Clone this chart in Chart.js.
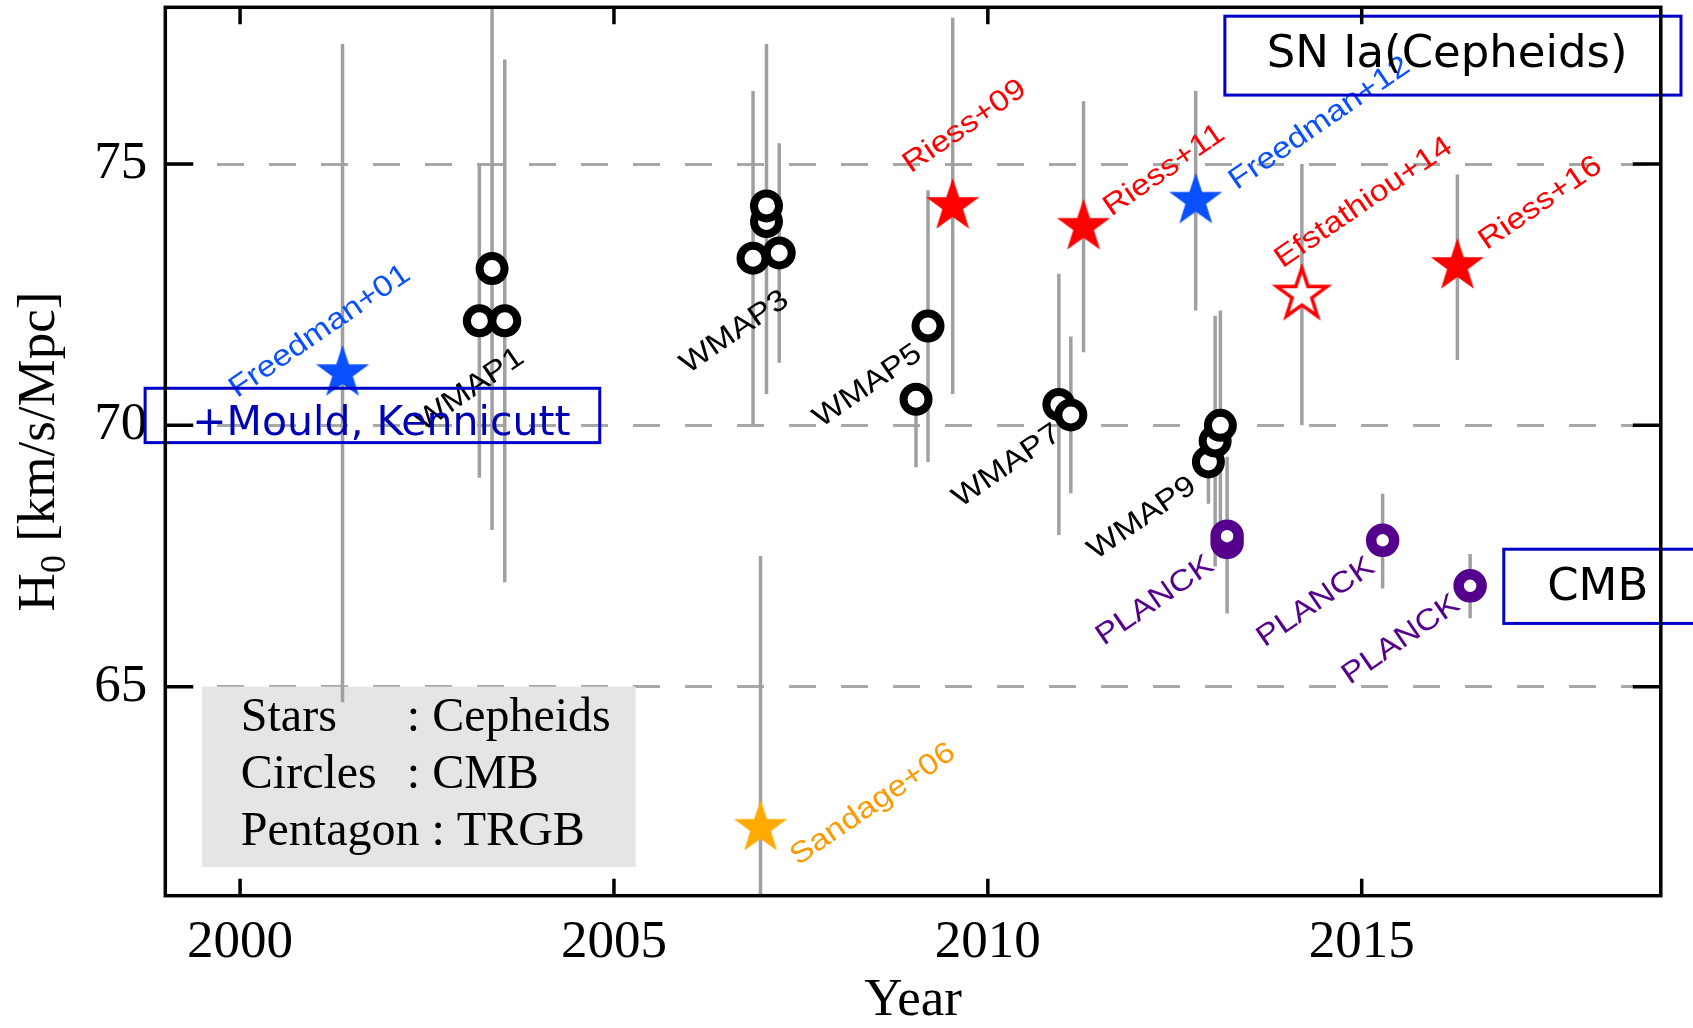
<!DOCTYPE html>
<html>
<head>
<meta charset="utf-8">
<title>H0 measurements by year</title>
<script src="https://cdn.jsdelivr.net/npm/chart.js@4.4.0/dist/chart.umd.min.js"></script>
<style>
  html, body { margin: 0; padding: 0; background: #fff; }
  #wrap { width: 1693px; height: 1028px; }
</style>
</head>
<body>
<div id="wrap"><canvas id="h0Chart" width="1693" height="1028"></canvas></div>
<script>
// Axis ranges and labelled ticks
const yearMin = 1999, yearMax = 2019;
const h0Min = 61, h0Max = 78;
const xTickLabels = [2000, 2005, 2010, 2015];
const yTickLabels = [65, 70, 75];

// Cepheid based measurements (stars)
const starNames = ['Freedman+01', 'Riess+09', 'Riess+11', 'Freedman+12', 'Efstathiou+14', 'Riess+16', 'Sandage+06'];
const starYears = [2001.37, 2009.53, 2011.28, 2012.78, 2014.20, 2016.28, 2006.96];
const starH0    = [71.0, 74.2, 73.8, 74.3, 72.5, 73.05, 62.3];
const starLow   = [64.7, 70.6, 71.4, 72.2, 70.0, 71.25, 57.0];
const starHigh  = [77.3, 77.8, 76.2, 76.4, 75.0, 74.8, 67.5];

// WMAP results (black circles)
const wmapYears = [2003.37, 2003.20, 2003.54, 2006.86, 2007.04, 2007.04, 2007.21, 2009.04, 2009.20, 2010.95, 2011.11, 2012.95, 2013.04, 2013.11];
const wmapH0    = [73.0, 72.0, 72.0, 73.2, 73.9, 74.2, 73.3, 70.5, 71.9, 70.4, 70.2, 69.3, 69.7, 70.0];
const wmapLow   = [68.0, 69.0, 67.0, 70.0, 70.6, 71.1, 71.2, 69.2, 69.3, 67.9, 68.7, 68.5, 67.3, 67.8];
const wmapHigh  = [78.0, 75.0, 77.0, 76.4, 77.3, 77.3, 75.4, 70.5, 74.5, 72.9, 71.7, 70.1, 72.1, 72.2];

// Planck results (purple circles)
const planckYears = [2013.20, 2013.20, 2015.28, 2016.45];
const planckH0    = [67.76, 67.88, 67.8, 66.93];
const planckLow   = [66.4, 66.4, 66.88, 66.31];
const planckHigh  = [69.4, 69.4, 68.69, 67.54];

// Rotated point labels (text start, in data units)
const labelTexts = ['Freedman+01', 'WMAP1', 'WMAP3', 'WMAP5', 'WMAP7', 'WMAP9', 'PLANCK', 'PLANCK', 'PLANCK',
                    'Riess+09', 'Riess+11', 'Freedman+12', 'Efstathiou+14', 'Riess+16', 'Sandage+06'];
const labelYears = [1999.96, 2002.45, 2005.99, 2007.77, 2009.63, 2011.44, 2011.55, 2013.70, 2014.84,
                    2008.97, 2011.65, 2013.33, 2013.94, 2016.67, 2007.46];
const labelH0    = [70.52, 69.88, 70.98, 69.95, 68.42, 67.42, 65.78, 65.75, 65.03,
                    74.82, 73.99, 74.50, 73.00, 73.35, 61.57];

// colours
const RED = '#ff0000', BLUE = '#0a50ff', ORANGE = '#ffaa00', PURPLE = '#55008c', BAR = '#a0a0a0';
const starKind = {
  'Freedman+01': 'blue', 'Freedman+12': 'blue', 'Riess+09': 'red', 'Riess+11': 'red',
  'Riess+16': 'red', 'Efstathiou+14': 'open', 'Sandage+06': 'orange'
};
function labelColor(t) {
  if (t.startsWith('WMAP')) return '#000';
  if (t === 'PLANCK') return PURPLE;
  if (t.startsWith('Freedman')) return BLUE;
  if (t.startsWith('Sandage')) return '#ff9900';
  return RED;
}

// star marker drawn once into a small canvas, used as pointStyle
function makeStar(fill, stroke, R) {
  const size = Math.ceil(2 * R + 8);
  const c = document.createElement('canvas');
  c.width = size; c.height = size;
  const g = c.getContext('2d');
  const cx = size / 2, cy = size / 2, r = R * 0.39;
  g.beginPath();
  for (let i = 0; i < 10; i++) {
    const rad = i % 2 === 0 ? R : r;
    const a = -Math.PI / 2 + i * Math.PI / 5;
    g.lineTo(cx + rad * Math.cos(a), cy + rad * Math.sin(a));
  }
  g.closePath();
  g.fillStyle = fill;
  g.fill();
  if (stroke) {
    g.lineWidth = 3.5;
    g.lineJoin = 'miter';
    g.strokeStyle = stroke;
    g.stroke();
  }
  return c;
}
const starImages = {
  red: makeStar(RED, null, 28),
  blue: makeStar(BLUE, null, 28),
  orange: makeStar(ORANGE, null, 28),
  open: makeStar('#fff', RED, 26.5)
};

// error bars: one broken line through (x,low)-(x,high) pairs
function barPoints(xs, lo, hi) {
  const out = [];
  xs.forEach((x, i) => {
    out.push({x: x, y: lo[i]}, {x: x, y: hi[i]}, {x: x, y: null});
  });
  return out;
}
const errorBarData = [].concat(
  barPoints(starYears, starLow, starHigh),
  barPoints(wmapYears, wmapLow, wmapHigh),
  barPoints(planckYears, planckLow, planckHigh)
);

const toXY = (xs, ys) => xs.map((x, i) => ({x: x, y: ys[i]}));

// boxes and legend drawn on top of the plot
const noteBoxes = [
  {text: '+Mould, Kennicutt', x0: 1998.73, x1: 2004.81, y0: 70.71, y1: 69.67, tx: 1999.36, ty: 69.82, color: '#0000b4', size: 41},
  {text: 'SN Ia(Cepheids)', x0: 2013.17, x1: 2019.27, y0: 77.83, y1: 76.32, tx: 2013.73, ty: 76.86, color: '#000', size: 45},
  {text: 'CMB', x0: 2016.90, x1: 2019.8, y0: 67.63, y1: 66.21, tx: 2017.48, ty: 66.66, color: '#000', size: 45}
];
const legendLines = [
  {left: 'Stars', right: ': Cepheids', y: 64.15},
  {left: 'Circles', right: ': CMB', y: 63.07},
  {left: 'Pentagon : TRGB', right: '', y: 61.97}
];

const decor = {
  id: 'decor',
  beforeDatasetsDraw(chart) {
    const {ctx, scales: {x, y}} = chart;
    // grey legend panel
    ctx.save();
    ctx.fillStyle = '#e5e5e5';
    const x0 = x.getPixelForValue(1999.49), x1 = x.getPixelForValue(2005.29);
    const y0 = y.getPixelForValue(65.0), y1 = y.getPixelForValue(61.55);
    ctx.fillRect(x0, y0, x1 - x0, y1 - y0);
    ctx.restore();
  },
  afterDatasetsDraw(chart) {
    const {ctx, chartArea: a, scales: {x, y}} = chart;
    ctx.save();

    // rotated labels (slightly wide sans, like the original plot font)
    ctx.font = '29.5px "Liberation Sans", Arial, sans-serif';
    ctx.textAlign = 'left';
    ctx.textBaseline = 'alphabetic';
    labelTexts.forEach((t, i) => {
      ctx.save();
      ctx.translate(x.getPixelForValue(labelYears[i]), y.getPixelForValue(labelH0[i]));
      ctx.rotate(-34.5 * Math.PI / 180);
      ctx.scale(1.15, 1);
      ctx.fillStyle = labelColor(t);
      ctx.fillText(t, 0, 0);
      ctx.restore();
    });

    // legend text
    ctx.fillStyle = '#000';
    ctx.font = '48px "Liberation Serif", "Times New Roman", serif';
    legendLines.forEach(l => {
      ctx.fillText(l.left, x.getPixelForValue(2000.01), y.getPixelForValue(l.y));
      if (l.right) ctx.fillText(l.right, x.getPixelForValue(2002.23), y.getPixelForValue(l.y));
    });

    // outlined note boxes
    noteBoxes.forEach(b => {
      const bx0 = x.getPixelForValue(b.x0), bx1 = x.getPixelForValue(b.x1);
      const by0 = y.getPixelForValue(b.y0), by1 = y.getPixelForValue(b.y1);
      ctx.strokeStyle = '#0000c8';
      ctx.lineWidth = 3;
      ctx.strokeRect(bx0, by0, bx1 - bx0, by1 - by0);
      ctx.fillStyle = b.color;
      ctx.font = b.size + 'px "DejaVu Sans", sans-serif';
      ctx.fillText(b.text, x.getPixelForValue(b.tx), y.getPixelForValue(b.ty));
    });

    // frame with inward ticks on all four sides
    ctx.strokeStyle = '#000';
    ctx.lineWidth = 3.5;
    ctx.strokeRect(a.left, a.top, a.right - a.left, a.bottom - a.top);
    ctx.beginPath();
    x.ticks.forEach(t => {
      const px = x.getPixelForValue(t.value);
      const len = t.value % 5 === 0 ? 17 : 8.5;
      ctx.moveTo(px, a.bottom); ctx.lineTo(px, a.bottom - len);
      ctx.moveTo(px, a.top); ctx.lineTo(px, a.top + len);
    });
    y.ticks.forEach(t => {
      const py = y.getPixelForValue(t.value);
      const len = t.value % 5 === 0 ? 28 : 15;
      ctx.moveTo(a.left, py); ctx.lineTo(a.left + len, py);
      ctx.moveTo(a.right, py); ctx.lineTo(a.right - len, py);
    });
    ctx.stroke();

    // y axis title with subscript
    ctx.translate(54, (a.top + a.bottom) / 2);
    ctx.rotate(-Math.PI / 2);
    ctx.fillStyle = '#000';
    const fMain = '53px "Liberation Serif", serif', fSub = '36px "Liberation Serif", serif';
    ctx.font = fMain;
    const wH = ctx.measureText('H').width, wRest = ctx.measureText(' [km/s/Mpc]').width;
    ctx.font = fSub;
    const wSub = ctx.measureText('0').width;
    let cx = -(wH + wSub + wRest) / 2;
    ctx.font = fMain; ctx.fillText('H', cx, 0); cx += wH;
    ctx.font = fSub; ctx.fillText('0', cx, 11); cx += wSub;
    ctx.font = fMain; ctx.fillText(' [km/s/Mpc]', cx, 0);
    ctx.restore();
  }
};

const tickFont = {family: '"Liberation Serif", "Times New Roman", serif', size: 53, lineHeight: 1};

new Chart(document.getElementById('h0Chart'), {
  type: 'scatter',
  data: {
    datasets: [
      {
        label: 'Cepheids',
        data: toXY(starYears, starH0),
        pointStyle: ctx => starImages[starKind[starNames[ctx.dataIndex]]],
        pointRadius: 28,
        order: 1
      },
      {
        label: 'WMAP',
        data: toXY(wmapYears, wmapH0),
        pointStyle: 'circle',
        pointRadius: 12.5,
        borderWidth: 8,
        borderColor: '#000',
        backgroundColor: '#fff',
        order: 2
      },
      {
        label: 'Planck',
        data: toXY(planckYears, planckH0),
        pointStyle: 'circle',
        pointRadius: 11.5,
        borderWidth: 10.5,
        borderColor: PURPLE,
        backgroundColor: '#fff',
        order: 3
      },
      {
        type: 'line',
        label: 'errors',
        data: errorBarData,
        borderColor: BAR,
        borderWidth: 3.5,
        pointRadius: 0,
        spanGaps: false,
        fill: false,
        order: 10
      }
    ]
  },
  options: {
    responsive: false,
    animation: false,
    events: [],
    layout: {autoPadding: false, padding: {top: 7.3, right: 32.2, bottom: 0, left: 0}},
    plugins: {legend: {display: false}, tooltip: {enabled: false}},
    scales: {
      x: {
        type: 'linear',
        min: yearMin,
        max: yearMax,
        afterFit: s => { s.height = 132.3; s.paddingLeft = 0; s.paddingRight = 0; },
        grid: {display: false, drawTicks: false},
        border: {display: false},
        ticks: {
          stepSize: 1, autoSkip: false, maxRotation: 0, minRotation: 0, padding: 21,
          color: '#000', font: tickFont,
          callback: v => xTickLabels.includes(v) ? String(v) : null
        },
        title: {display: true, text: 'Year', color: '#000', padding: 0, font: tickFont}
      },
      y: {
        type: 'linear',
        min: h0Min,
        max: h0Max,
        afterFit: s => { s.width = 165.3; s.paddingTop = 0; s.paddingBottom = 0; },
        grid: {
          drawTicks: false,
          lineWidth: 3,
          color: ctx => yTickLabels.includes(ctx.tick.value) ? '#a8a8a8' : 'rgba(0,0,0,0)'
        },
        border: {display: false, dash: [27, 25]},
        ticks: {
          stepSize: 1, autoSkip: false, padding: 18,
          color: '#000', font: tickFont,
          callback: v => yTickLabels.includes(v) ? String(v) : null
        }
      }
    }
  },
  plugins: [decor]
});
</script>
</body>
</html>
